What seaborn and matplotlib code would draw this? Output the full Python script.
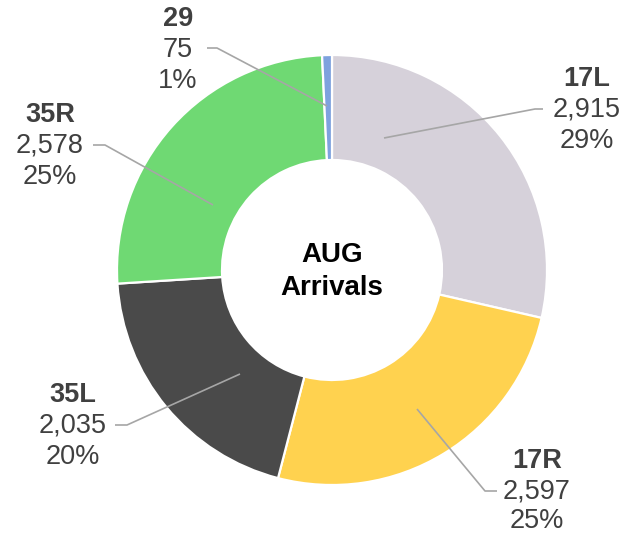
import matplotlib
matplotlib.use("Agg")
import matplotlib.pyplot as plt
import seaborn as sns

# ---- data ----
runways = ["17L", "17R", "35L", "35R", "29"]
arrivals = [2915, 2597, 2035, 2578, 75]
colors = ["#d6d1da", "#ffd24f", "#4a4a4a", "#6fd973", "#7ea2de"]
center_title = ["AUG", "Arrivals"]

# ---- layout (pixel coordinates, y measured from the top) ----
W, H = 623, 537
CX, CY = 332, 270
R_OUT, RING = 215, 105
# label: text center x, middle-line y; leader: anchor, elbow, end
label_pos = [(587, 110), (537, 491), (73, 426), (50, 146), (178, 50)]
leaders = [
    [(384, 138), (535, 109), (543, 109)],
    [(417, 409), (485, 491), (497, 491)],
    [(240, 374), (127, 425), (115, 425)],
    [(213, 205), (105, 145), (93, 145)],
    [(327, 106), (217, 48), (207, 48)],
]
PITCH = 30.5

sns.set_theme(style="white")
plt.rcParams["font.family"] = ["Liberation Sans", "DejaVu Sans"]

fig = plt.figure(figsize=(W / 100, H / 100), dpi=100)
ax = fig.add_axes([0, 0, 1, 1])

def Y(y):
    return H - y

ax.pie(arrivals, colors=colors, startangle=90, counterclock=False,
       radius=R_OUT, center=(CX, Y(CY)),
       wedgeprops=dict(width=RING, edgecolor="white", linewidth=1.6))

total = sum(arrivals)
txt_color = "#404040"
for name, val, (tx, ty), pts in zip(runways, arrivals, label_pos, leaders):
    pct = round(val / total * 100)
    xs = [p[0] for p in pts]
    ys = [Y(p[1]) for p in pts]
    ax.plot(xs, ys, color="#a6a6a6", lw=1.2, solid_capstyle="butt", zorder=3)
    ax.text(tx, Y(ty - PITCH), name, ha="center", va="center",
            fontsize=19.5, fontweight="bold", color=txt_color)
    ax.text(tx, Y(ty), f"{val:,}", ha="center", va="center",
            fontsize=19.5, color=txt_color)
    ax.text(tx, Y(ty + PITCH), f"{pct}%", ha="center", va="center",
            fontsize=19.5, color=txt_color)

ax.text(CX, Y(255), center_title[0], ha="center", va="center",
        fontsize=20, fontweight="bold", color="black")
ax.text(CX, Y(288), center_title[1], ha="center", va="center",
        fontsize=20, fontweight="bold", color="black")

ax.set_xlim(0, W)
ax.set_ylim(0, H)
ax.set_aspect("equal")
ax.axis("off")
fig.savefig("out.png", dpi=100, facecolor="white")
